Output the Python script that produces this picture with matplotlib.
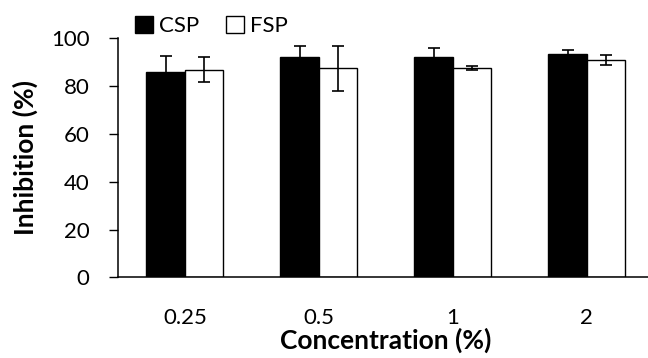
import numpy as np
import matplotlib.pyplot as plt
from matplotlib.patches import Rectangle

# datos
concentraciones = ['0.25', '0.5', '1', '2']
csp = [86.1, 92.0, 92.0, 93.6]
csp_err = [6.6, 5.0, 4.0, 1.6]
fsp = [86.8, 87.5, 87.5, 91.0]
fsp_err = [5.2, 9.5, 0.8, 2.0]

plt.rcParams['font.family'] = ['Lato', 'DejaVu Sans']

fig = plt.figure(figsize=(6.48, 3.58), dpi=100)
ax = fig.add_axes([0.182, 0.2249, 0.827, 0.668])

x = np.arange(len(concentraciones))
ancho = 0.287
ekw = dict(elinewidth=1.2, capthick=1.2, capsize=4.5, ecolor='black')

ax.bar(x - ancho / 2, csp, ancho, yerr=csp_err, color='black',
       edgecolor='black', linewidth=1, error_kw=ekw, label='CSP')
ax.bar(x + ancho / 2, fsp, ancho, yerr=fsp_err, color='white',
       edgecolor='black', linewidth=1, error_kw=ekw, label='FSP')

ax.set_xlim(-0.5, 3.5)
ax.set_ylim(0, 100)
ax.set_yticks(range(0, 101, 20))
ax.set_xticks(x)
ax.set_xticklabels(concentraciones)
ax.tick_params(axis='y', direction='out', length=6.5, width=1, labelsize=16, pad=14)
ax.tick_params(axis='x', length=0, labelsize=16, pad=22)

ax.spines['top'].set_visible(False)
ax.spines['right'].set_visible(False)
ax.spines['left'].set_linewidth(1.1)
ax.spines['bottom'].set_linewidth(1.1)

ax.set_ylabel('Inhibition (%)', fontsize=19, fontweight='bold', labelpad=9)
ax.set_xlabel('Concentration (%)', fontsize=19, fontweight='bold', labelpad=0)

# leyenda arriba a la izquierda
handles = [Rectangle((0, 0), 1, 1, facecolor='black', edgecolor='black'),
           Rectangle((0, 0), 1, 1, facecolor='white', edgecolor='black')]
fig.legend(handles, ['CSP', 'FSP'], loc='center left', bbox_to_anchor=(0.208, 0.927),
           ncol=2, frameon=False, fontsize=16, handlelength=0.8, handleheight=0.8,
           handletextpad=0.3, columnspacing=1.2, borderaxespad=0, borderpad=0)

fig.savefig('out.png', dpi=100)
